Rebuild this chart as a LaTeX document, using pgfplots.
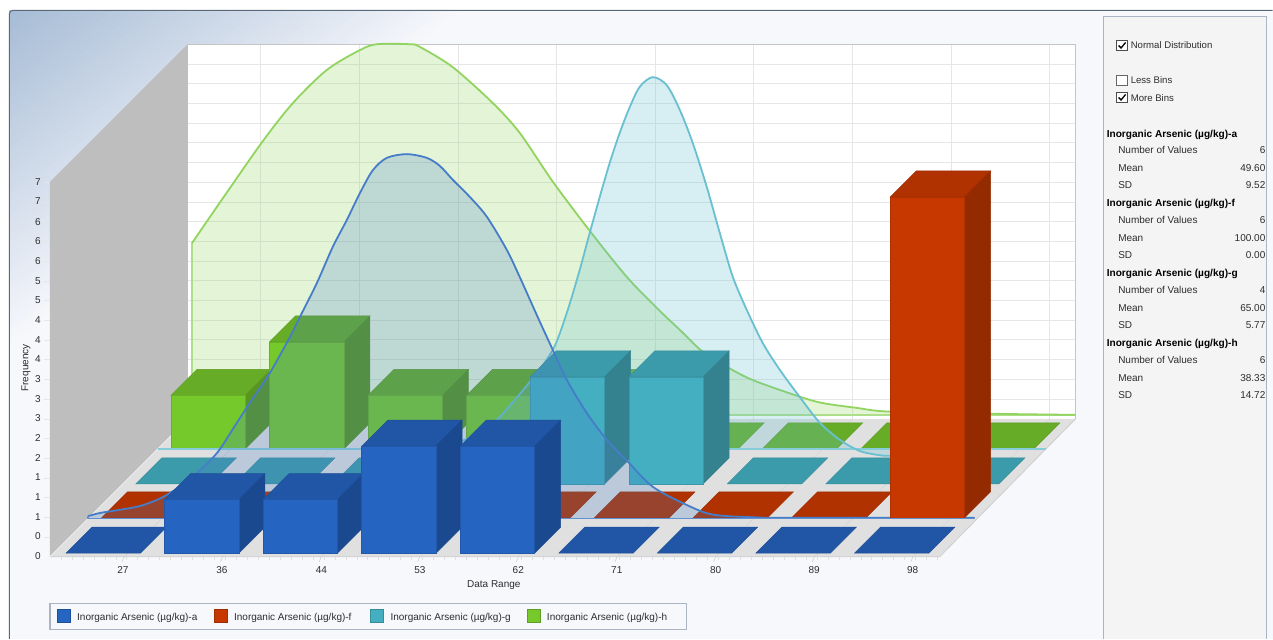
\documentclass[border=0pt]{standalone}
\usepackage{fontspec}
\setmainfont{Liberation Sans}
\usepackage{pgfplots}
\usepackage{pgfplotstable}
\pgfplotsset{compat=1.18}

\definecolor{pagebg}{RGB}{247,248,252}
\definecolor{cornerbg}{RGB}{165,187,213}
\definecolor{framec}{RGB}{90,105,120}
\definecolor{panelbg}{RGB}{244,244,244}
\definecolor{panelline}{RGB}{170,180,195}
\definecolor{wallc}{RGB}{190,190,190}
\definecolor{floorc}{RGB}{224,224,224}
\definecolor{gridc}{RGB}{230,230,232}
\definecolor{txt}{RGB}{45,45,45}
% series colours: a, f, g, h
\definecolor{fronta}{RGB}{37,100,192}
\definecolor{sidea}{RGB}{27,73,143}
\definecolor{topa}{RGB}{33,86,166}
\definecolor{frontf}{RGB}{198,56,0}
\definecolor{sidef}{RGB}{148,42,0}
\definecolor{topf}{RGB}{176,50,0}
\definecolor{frontg}{RGB}{67,175,193}
\definecolor{sideg}{RGB}{52,129,143}
\definecolor{topg}{RGB}{60,155,170}
\definecolor{fronth}{RGB}{118,201,43}
\definecolor{sideh}{RGB}{88,150,32}
\definecolor{toph}{RGB}{102,172,38}
\definecolor{curvea}{RGB}{70,125,200}
\definecolor{curveg}{RGB}{104,192,208}
\definecolor{curveh}{RGB}{146,212,96}

% normal curves: horizontal position, frequency above the curve's own base line
\pgfplotstableread{
x f
192 3.21
227 4.16
263 5.12
293 5.83
327 6.45
360 6.82
377 6.93
410 6.93
420 6.88
453 6.50
493 5.83
520 5.27
553 4.36
590 3.44
627 2.58
657 2.00
680 1.59
703 1.18
727 0.90
753 0.65
800 0.34
823 0.22
857 0.13
890 0.06
993 0.02
1076 0
}\curveh
\pgfplotstableread{
x f
420 0.02
450 0.07
475 0.26
497 0.54
530 1.25
553 1.85
567 2.54
580 3.35
590 4.04
600 4.71
610 5.35
620 5.91
630 6.39
640 6.77
653 6.95
667 6.80
680 6.34
693 5.72
707 4.90
720 4.04
733 3.22
747 2.60
763 1.98
780 1.48
800 0.97
820 0.49
840 0.17
860 -0.04
880 -0.12
891 -0.13
940 -0.13
966 -0.06
990 0
}\curveg
\pgfplotstableread{
x f
88 0.03
100 0.09
120 0.15
140 0.22
160 0.36
178 0.56
196 0.82
217 1.21
235 1.72
252 2.21
270 2.71
290 3.38
302 3.83
317 4.39
333 5.07
347 5.57
360 6.07
373 6.50
387 6.73
407 6.80
427 6.73
440 6.58
453 6.32
470 6.00
487 5.63
507 5.01
520 4.50
538 3.75
553 3.14
567 2.58
587 1.96
607 1.46
628 1.05
653 0.58
687 0.24
713 0.06
753 0.01
787 0
975 0
}\curvea

% one bin of a series: {row x}{row base y}{bin}{frequency}{series}
\newcommand{\binbox}[5]{%
  \pgfmathsetmacro{\xa}{#1+98.6*#3}%
  \pgfmathsetmacro{\xb}{\xa+74.5}%
  \pgfmathsetmacro{\xc}{\xb+26}%
  \pgfmathsetmacro{\xd}{\xa+26}%
  \pgfmathsetmacro{\yt}{#2-53.5*#4}%
  \pgfmathsetmacro{\yu}{\yt-26}%
  \pgfmathsetmacro{\yv}{#2-26}%
  \addplot[fill=top#5, draw=top#5!90!black, line width=0.4pt]
    coordinates {(\xa,\yt) (\xb,\yt) (\xc,\yu) (\xd,\yu)} --cycle;
  \ifnum#4>0
    \addplot[fill=side#5, draw=side#5, line width=0.4pt]
      coordinates {(\xb,#2) (\xc,\yv) (\xc,\yu) (\xb,\yt)} --cycle;
    \addplot[fill=front#5, draw=front#5!88!black, line width=0.5pt]
      coordinates {(\xa,#2) (\xb,#2) (\xb,\yt) (\xa,\yt)} --cycle;
  \fi
}
\newcommand{\txt}[3]{\node[anchor=#3, inner sep=0pt, text=txt, font=\fontsize{10}{12}\selectfont] at (axis cs:#1) {#2};}
\newcommand{\opt}[2]{\node[anchor=west, inner sep=0pt, text=txt, font=\fontsize{9.6}{12}\selectfont] at (axis cs:1131,#1) {#2};}
\newcommand{\stat}[3]{% y, label, value
  \node[anchor=base west, inner sep=0pt, text=txt, font=\fontsize{10}{12}\selectfont] at (axis cs:1118.5,#1+3.7) {#2};
  \node[anchor=base east, inner sep=0pt, text=txt, font=\fontsize{10}{12}\selectfont] at (axis cs:1266,#1+3.7) {#3};}
\newcommand{\stathead}[2]{\node[anchor=west, inner sep=0pt, text=black, font=\fontsize{10.1}{12}\selectfont\bfseries] at (axis cs:1107,#1+1.8) {#2};}
\newcommand{\swatch}[3]{% x, series, label
  \fill[front#2, draw=front#2!80!black, line width=0.5pt] (axis cs:#1,609) rectangle (axis cs:#1+13,622);
  \node[anchor=west, inner sep=0pt, text=txt, font=\fontsize{10}{12}\selectfont] at (axis cs:#1+20,618) {#3};}
\newcommand{\ylab}[2]{\node[anchor=center, inner sep=0pt, text=txt, font=\fontsize{10}{12}\selectfont] at (axis cs:38,#1) {#2};}

\begin{document}
\begin{tikzpicture}
\begin{axis}[
    scale only axis,
    width=1273pt, height=639pt,
    xmin=0, xmax=1273, ymin=0, ymax=639,
    y dir=reverse,
    hide axis,
    clip=false,
]
% window background
\fill[white] (axis cs:0,0) rectangle (axis cs:1273,639);
\fill[pagebg] (axis cs:10,11) rectangle (axis cs:1273,639);
\pgfplotsinvokeforeach{100,98,...,2}{
  \fill[pagebg!#1!cornerbg] (axis cs:10,11) -- (axis cs:10+4.6*#1,11) -- (axis cs:10,11+3.4*#1) -- cycle;
}
\draw[framec, line width=1pt, rounded corners=3pt] (axis cs:9.5,639) -- (axis cs:9.5,10.5) -- (axis cs:1273,10.5);

% left wall, back wall, floor
\fill[wallc] (axis cs:50,182) -- (axis cs:188,44) -- (axis cs:188,419) -- (axis cs:50,557) -- cycle;
\fill[white] (axis cs:188,44) rectangle (axis cs:1076,419);
\pgfplotsinvokeforeach{1,...,19}{
  \draw[gridc, line width=1pt] (axis cs:188,419-19.72*#1) -- (axis cs:1075,419-19.72*#1);
  \draw[gridc, line width=0.6pt] (axis cs:44,557-19.72*#1) -- (axis cs:50,557-19.72*#1);
}
\pgfplotsinvokeforeach{0,...,8}{
  \draw[gridc, line width=1pt] (axis cs:261+98.65*#1,44) -- (axis cs:261+98.65*#1,419);
}
\draw[wallc!90!white, line width=0.8pt] (axis cs:188,44) -- (axis cs:1076,44) -- (axis cs:1076,419);
\fill[floorc] (axis cs:50,557) -- (axis cs:940,557) -- (axis cs:1076,419) -- (axis cs:188,419) -- cycle;
\pgfplotsinvokeforeach{0,...,8}{
  \draw[floorc!93!black, line width=0.4pt] (axis cs:124+98.65*#1,557) -- (axis cs:261+98.65*#1,419);
}
\draw[floorc!92!black, line width=0.8pt] (axis cs:50,557) -- (axis cs:940,557) -- (axis cs:1076,419);
\draw[floorc!50!white, line width=0.8pt] (axis cs:50,557) -- (axis cs:188,419);
\pgfplotsinvokeforeach{0,...,80}{
  \draw[floorc, line width=0.5pt] (axis cs:61+10.96*#1,557) -- (axis cs:61+10.96*#1,560);
}
\pgfplotsinvokeforeach{0,...,8}{
  \draw[floorc!90!black, line width=0.5pt] (axis cs:124+98.65*#1,557) -- (axis cs:122+98.65*#1,562);
}

% series h: normal curve on the plane behind the row
\addplot[smooth, draw=none, fill=curveh, fill opacity=0.25] table[y expr=415-53.5*\thisrow{f}] {\curveh} -- (axis cs:192,415) -- cycle;
\addplot[draw=curveh!75!white, line width=2pt] coordinates {(192,243) (192,415) (1076,415)};
\addplot[smooth, draw=curveh, line width=1.8pt] table[y expr=415-53.5*\thisrow{f}] {\curveh};

% series h bars: 27..98
\binbox{171}{449}{0}{1}{h}
\binbox{171}{449}{1}{2}{h}
\binbox{171}{449}{2}{1}{h}
\binbox{171}{449}{3}{1}{h}
\binbox{171}{449}{4}{1}{h}
\binbox{171}{449}{5}{0}{h}
\binbox{171}{449}{6}{0}{h}
\binbox{171}{449}{7}{0}{h}
\binbox{171}{449}{8}{0}{h}

% series g: normal curve
\addplot[smooth, draw=none, fill=curveg, fill opacity=0.26] table[y expr=449-53.5*\thisrow{f}] {\curveg} -- cycle;
\addplot[draw=curveg!80!white, line width=1.6pt] coordinates {(158,449) (1046,449)};
\addplot[smooth, draw=curveg, line width=1.8pt] table[y expr=449-53.5*\thisrow{f}] {\curveg};

% series g bars
\binbox{136}{484}{0}{0}{g}
\binbox{136}{484}{1}{0}{g}
\binbox{136}{484}{2}{0}{g}
\binbox{136}{484}{3}{0}{g}
\binbox{136}{484}{4}{2}{g}
\binbox{136}{484}{5}{2}{g}
\binbox{136}{484}{6}{0}{g}
\binbox{136}{484}{7}{0}{g}
\binbox{136}{484}{8}{0}{g}

% series f bars (SD 0, no curve)
\binbox{101.7}{518}{0}{0}{f}
\binbox{101.7}{518}{1}{0}{f}
\binbox{101.7}{518}{2}{0}{f}
\binbox{101.7}{518}{3}{0}{f}
\binbox{101.7}{518}{4}{0}{f}
\binbox{101.7}{518}{5}{0}{f}
\binbox{101.7}{518}{6}{0}{f}
\binbox{101.7}{518}{7}{0}{f}

% series a: normal curve
\addplot[smooth, draw=none, fill=curvea, fill opacity=0.23] table[y expr=518-53.5*\thisrow{f}] {\curvea} -- (axis cs:88,518) -- cycle;
\addplot[smooth, draw=curvea, line width=1.8pt] table[y expr=518-53.5*\thisrow{f}] {\curvea};

% series f, last bin stands on the curve's base line
\binbox{101.7}{518}{8}{6}{f}
\addplot[draw=curvea!85!white, line width=1.4pt] coordinates {(88,516.5) (88,518.5) (975,518.5)};

% series a bars
\binbox{66}{553.3}{0}{0}{a}
\binbox{66}{553.3}{1}{1}{a}
\binbox{66}{553.3}{2}{1}{a}
\binbox{66}{553.3}{3}{2}{a}
\binbox{66}{553.3}{4}{2}{a}
\binbox{66}{553.3}{5}{0}{a}
\binbox{66}{553.3}{6}{0}{a}
\binbox{66}{553.3}{7}{0}{a}
\binbox{66}{553.3}{8}{0}{a}

% frequency labels
\ylab{556}{0}\ylab{536.5}{0}\ylab{517}{1}\ylab{497}{1}\ylab{477.5}{1}
\ylab{458}{2}\ylab{438}{2}\ylab{418.5}{3}\ylab{399}{3}\ylab{379}{3}
\ylab{359.5}{4}\ylab{340}{4}\ylab{320}{4}\ylab{300}{5}\ylab{281}{5}
\ylab{261}{6}\ylab{241}{6}\ylab{222}{6}\ylab{201.5}{7}\ylab{182}{7}
\node[rotate=90, inner sep=0pt, text=txt, font=\fontsize{10}{12}\selectfont] at (axis cs:26,368) {Frequency};

% data range labels
\txt{123,570}{27}{center}\txt{222,570}{36}{center}\txt{321.5,570}{44}{center}
\txt{420,570}{53}{center}\txt{518.5,570}{62}{center}\txt{617,570}{71}{center}
\txt{716,570}{80}{center}\txt{814.5,570}{89}{center}\txt{913,570}{98}{center}
\txt{494,585}{Data Range}{center}

% legend
\fill[pagebg, draw=panelline, line width=1.2pt] (axis cs:50,603.5) rectangle (axis cs:687,630);
\swatch{57}{a}{Inorganic Arsenic (µg/kg)-a}
\swatch{214}{f}{Inorganic Arsenic (µg/kg)-f}
\swatch{370.5}{g}{Inorganic Arsenic (µg/kg)-g}
\swatch{527}{h}{Inorganic Arsenic (µg/kg)-h}

% side panel
\fill[panelbg] (axis cs:1104,16.5) rectangle (axis cs:1267,639);
\draw[panelline, line width=1.2pt] (axis cs:1104,639) -- (axis cs:1104,16.5) -- (axis cs:1267,16.5) -- (axis cs:1267,639);
\fill[white, draw=black!70, line width=0.7pt] (axis cs:1117,40.5) rectangle (axis cs:1127.5,50.5);
\draw[black, line width=1.3pt] (axis cs:1119,45.5) -- (axis cs:1121.5,48) -- (axis cs:1126,42.5);
\opt{45}{Normal Distribution}
\fill[white, draw=black!60, line width=0.7pt] (axis cs:1117,75.5) rectangle (axis cs:1127.5,85.5);
\opt{80}{Less Bins}
\fill[white, draw=black!70, line width=0.7pt] (axis cs:1117,92.5) rectangle (axis cs:1127.5,102.5);
\draw[black, line width=1.3pt] (axis cs:1119,97.5) -- (axis cs:1121.5,100) -- (axis cs:1126,94.5);
\opt{98}{More Bins}
\stathead{133}{Inorganic Arsenic (µg/kg)-a}
\stat{150}{Number of Values}{6}
\stat{167.5}{Mean}{49.60}
\stat{185}{SD}{9.52}
\stathead{202.5}{Inorganic Arsenic (µg/kg)-f}
\stat{220}{Number of Values}{6}
\stat{237.5}{Mean}{100.00}
\stat{255}{SD}{0.00}
\stathead{272.5}{Inorganic Arsenic (µg/kg)-g}
\stat{290}{Number of Values}{4}
\stat{307.5}{Mean}{65.00}
\stat{325}{SD}{5.77}
\stathead{342.5}{Inorganic Arsenic (µg/kg)-h}
\stat{360}{Number of Values}{6}
\stat{377.5}{Mean}{38.33}
\stat{395}{SD}{14.72}
\end{axis}
\end{tikzpicture}
\end{document}
